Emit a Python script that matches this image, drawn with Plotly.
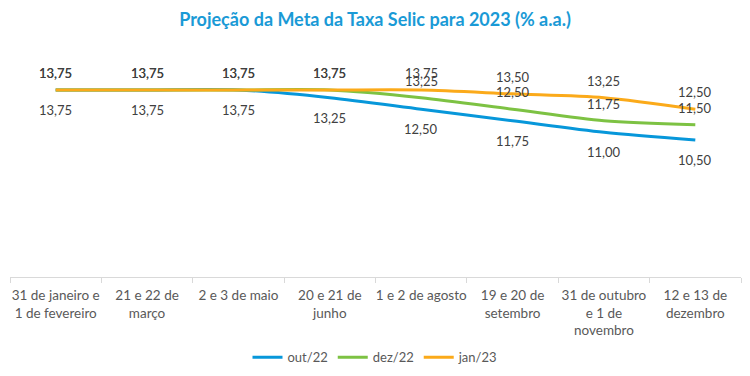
import plotly.graph_objects as go

categories = [
    "31 de janeiro e<br>1 de fevereiro",
    "21 e 22 de<br>março",
    "2 e 3 de maio",
    "20 e 21 de<br>junho",
    "1 e 2 de agosto",
    "19 e 20 de<br>setembro",
    "31 de outubro<br>e 1 de<br>novembro",
    "12 e 13 de<br>dezembro",
]
out22 = [13.75, 13.75, 13.75, 13.25, 12.50, 11.75, 11.00, 10.50]
dez22 = [13.75, 13.75, 13.75, 13.75, 13.25, 12.50, 11.75, 11.50]
jan23 = [13.75, 13.75, 13.75, 13.75, 13.75, 13.50, 13.25, 12.50]

def fmt(v):
    return f"{v:.2f}".replace(".", ",")

FONT = "Lato"
series = [
    ("out/22", out22, "#0797DA", -20),
    ("dez/22", dez22, "#7DC243", 17),
    ("jan/23", jan23, "#FBAA1A", 17),
]

fig = go.Figure()
annotations = []
for name, vals, color, shift in series:
    fig.add_trace(go.Scatter(
        x=categories, y=vals, name=name, mode="lines",
        line=dict(color=color, width=3, shape="spline", smoothing=0.8),
        hoverinfo="skip",
    ))
    for c, v in zip(categories, vals):
        annotations.append(dict(
            x=c, y=v, xref="x", yref="y", text=fmt(v), showarrow=False,
            yshift=shift, font=dict(family=FONT, size=13, color="#404040"),
        ))

# page body has an 8px default margin: figure is sized/offset to compensate
W, H = 742, 368
fig.update_layout(
    width=W, height=H,
    margin=dict(l=2, r=9, t=52, b=99, autoexpand=False),
    paper_bgcolor="white", plot_bgcolor="white",
    title=dict(text="<b>Projeção da Meta da Taxa Selic para 2023 (% a.a.)</b>",
               x=(375 - 8) / W, xanchor="center", y=1 - 12 / H, yanchor="middle",
               yref="container", xref="container",
               font=dict(family=FONT, size=18, color="#1A9AD6")),
    xaxis=dict(type="category", range=[-0.5, 7.5], showline=True, linecolor="#D9D9D9",
               linewidth=1, ticks="outside", tickson="boundaries", ticklen=5,
               tickcolor="#D9D9D9", tickangle=0, automargin=False, ticklabelstandoff=6,
               showgrid=False, tickfont=dict(family=FONT, size=13.5, color="#595959"),
               fixedrange=True),
    yaxis=dict(range=[1.6, 15.7], visible=False, showgrid=False, fixedrange=True,
               automargin=False),
    legend=dict(orientation="h", x=0.5, xanchor="center", y=-0.37, yanchor="middle",
                font=dict(family=FONT, size=13, color="#595959"),
                itemwidth=30, tracegroupgap=0),
    annotations=annotations,
    showlegend=True,
)

fig.write_html("out.html")
